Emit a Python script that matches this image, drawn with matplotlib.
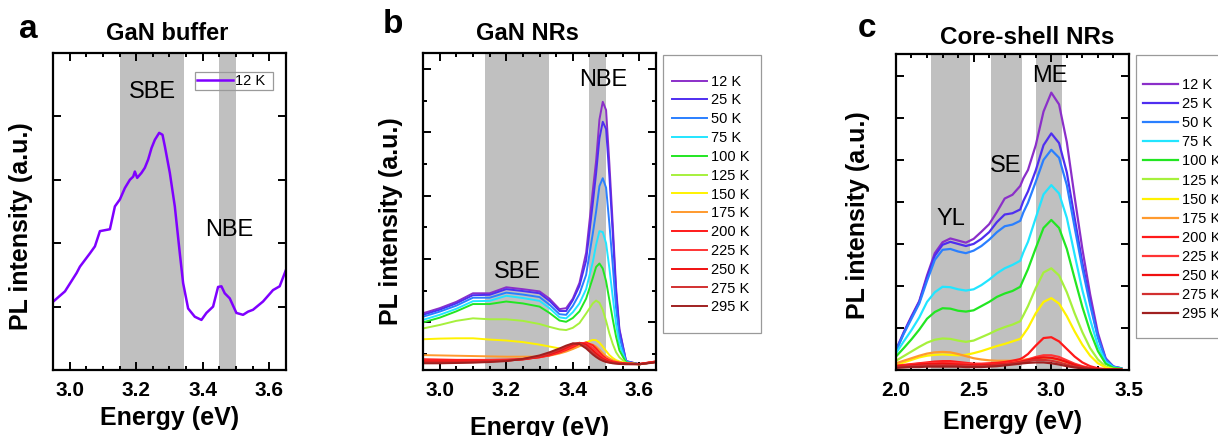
import matplotlib
matplotlib.use("Agg")
import matplotlib.pyplot as plt
from matplotlib.patches import Rectangle
import numpy as np

plt.rcParams['font.family'] = ['Liberation Sans', 'DejaVu Sans']

# ---------------- panel a : GaN buffer, 12 K ----------------
buffer_energy = [2.951, 2.986, 3.021, 3.031, 3.061, 3.076, 3.091, 3.121, 3.136, 3.151,
                 3.166, 3.181, 3.191, 3.196, 3.203, 3.216, 3.226, 3.236, 3.246, 3.256,
                 3.269, 3.279, 3.286, 3.301, 3.316, 3.331, 3.341, 3.356, 3.376, 3.396,
                 3.411, 3.431, 3.446, 3.456, 3.466, 3.481, 3.501, 3.521, 3.536, 3.551,
                 3.581, 3.611, 3.631, 3.650]
buffer_pl = [1.08, 1.24, 1.53, 1.63, 1.84, 1.95, 2.19, 2.22, 2.58, 2.69,
             2.87, 3.00, 3.05, 3.13, 3.03, 3.11, 3.19, 3.32, 3.50, 3.63,
             3.74, 3.71, 3.53, 3.11, 2.58, 1.84, 1.37, 0.97, 0.84, 0.79,
             0.90, 1.00, 1.31, 1.32, 1.21, 1.13, 0.90, 0.87, 0.92, 0.95,
             1.08, 1.26, 1.32, 1.58]

temps = ['12 K', '25 K', '50 K', '75 K', '100 K', '125 K', '150 K', '175 K',
         '200 K', '225 K', '250 K', '275 K', '295 K']
temp_colors = ['#8B2FC9', '#4F2EF0', '#2A7FFF', '#22E5FF', '#22E622', '#A6F03C',
               '#FFF200', '#FF9A2E', '#FF1A1A', '#FF3434', '#F01010', '#D23030', '#A02020']

# ---------------- panel b : GaN NRs ----------------
nr_energy = [2.95, 3.00, 3.05, 3.10, 3.15, 3.20, 3.25, 3.30, 3.33, 3.36, 3.38, 3.40, 3.42,
             3.44, 3.46, 3.47, 3.48, 3.49, 3.50, 3.51, 3.52, 3.53, 3.54, 3.56, 3.60, 3.65]
nr_12K = [1.79, 1.95, 2.15, 2.42, 2.42, 2.61, 2.55, 2.48, 2.25, 1.92, 1.95, 2.25, 2.75,
          3.70, 5.65, 6.60, 7.90, 8.46, 8.20, 6.50, 4.60, 2.60, 1.30, 0.28, 0.18, 0.26]
nr_25K = [1.74, 1.90, 2.10, 2.36, 2.37, 2.55, 2.49, 2.42, 2.18, 1.86, 1.86, 2.20, 2.65,
          3.45, 5.25, 6.20, 7.30, 7.83, 7.60, 6.10, 4.30, 2.45, 1.25, 0.28, 0.18, 0.26]
nr_50K = [1.68, 1.84, 2.03, 2.28, 2.28, 2.44, 2.38, 2.30, 2.06, 1.76, 1.74, 2.02, 2.40,
          3.00, 4.30, 5.00, 5.80, 6.05, 5.75, 4.60, 3.30, 1.95, 1.05, 0.26, 0.18, 0.26]
nr_75K = [1.58, 1.74, 1.93, 2.17, 2.18, 2.34, 2.27, 2.18, 1.95, 1.66, 1.63, 1.82, 2.10,
          2.55, 3.40, 3.95, 4.38, 4.35, 4.00, 3.20, 2.30, 1.45, 0.80, 0.25, 0.18, 0.26]
nr_100K = [1.50, 1.65, 1.85, 2.08, 2.08, 2.16, 2.10, 2.00, 1.80, 1.56, 1.52, 1.64, 1.85,
           2.25, 2.90, 3.25, 3.36, 3.20, 2.80, 2.20, 1.60, 1.05, 0.62, 0.24, 0.18, 0.26]
nr_125K = [1.31, 1.42, 1.55, 1.63, 1.60, 1.60, 1.55, 1.45, 1.36, 1.28, 1.26, 1.33, 1.48,
           1.78, 2.10, 2.19, 2.12, 1.90, 1.55, 1.15, 0.82, 0.56, 0.40, 0.22, 0.18, 0.26]
nr_150K = [0.97, 0.99, 1.00, 1.00, 0.96, 0.93, 0.88, 0.80, 0.74, 0.68, 0.66, 0.68, 0.76,
           0.87, 0.95, 0.94, 0.86, 0.74, 0.60, 0.47, 0.38, 0.31, 0.27, 0.21, 0.18, 0.26]
nr_175K = [0.47, 0.46, 0.45, 0.44, 0.43, 0.42, 0.42, 0.42, 0.45, 0.52, 0.58, 0.66, 0.75,
           0.82, 0.80, 0.74, 0.64, 0.53, 0.44, 0.37, 0.31, 0.27, 0.24, 0.21, 0.18, 0.26]
nr_200K = [0.34, 0.33, 0.32, 0.32, 0.32, 0.33, 0.35, 0.40, 0.46, 0.55, 0.63, 0.72, 0.82,
           0.87, 0.78, 0.68, 0.56, 0.45, 0.37, 0.31, 0.27, 0.25, 0.23, 0.21, 0.19, 0.27]
nr_225K = [0.30, 0.29, 0.29, 0.29, 0.30, 0.31, 0.34, 0.40, 0.47, 0.57, 0.66, 0.76, 0.85,
           0.84, 0.70, 0.60, 0.49, 0.40, 0.33, 0.28, 0.25, 0.23, 0.22, 0.20, 0.19, 0.27]
nr_250K = [0.27, 0.27, 0.27, 0.27, 0.28, 0.30, 0.33, 0.41, 0.49, 0.60, 0.70, 0.80, 0.86,
           0.80, 0.62, 0.52, 0.43, 0.35, 0.30, 0.26, 0.24, 0.22, 0.21, 0.20, 0.19, 0.26]
nr_275K = [0.24, 0.24, 0.24, 0.25, 0.27, 0.29, 0.34, 0.43, 0.52, 0.64, 0.74, 0.83, 0.85,
           0.74, 0.55, 0.46, 0.38, 0.32, 0.27, 0.24, 0.22, 0.21, 0.20, 0.19, 0.18, 0.25]
nr_295K = [0.21, 0.21, 0.22, 0.23, 0.25, 0.28, 0.35, 0.46, 0.56, 0.68, 0.77, 0.84, 0.82,
           0.68, 0.49, 0.41, 0.34, 0.29, 0.25, 0.23, 0.21, 0.20, 0.19, 0.18, 0.18, 0.24]

# ---------------- panel c : core-shell NRs ----------------
cs_energy = [2.00, 2.05, 2.10, 2.15, 2.20, 2.25, 2.30, 2.35, 2.40, 2.45, 2.50, 2.55, 2.60,
             2.65, 2.70, 2.75, 2.80, 2.82, 2.85, 2.90, 2.95, 3.00, 3.05, 3.10, 3.15, 3.20,
             3.25, 3.30, 3.35, 3.40, 3.45]
cs_12K = [0.48, 0.90, 1.28, 1.64, 2.25, 2.78, 3.04, 3.13, 3.08, 3.03, 3.12, 3.29, 3.47,
          3.76, 4.08, 4.17, 4.38, 4.56, 4.76, 5.35, 6.15, 6.60, 6.32, 5.42, 4.12, 2.88,
          1.80, 0.88, 0.28, 0.08, 0.04]
cs_25K = [0.46, 0.88, 1.26, 1.62, 2.20, 2.72, 2.98, 3.05, 3.00, 2.95, 3.00, 3.12, 3.28,
          3.52, 3.70, 3.73, 3.82, 4.02, 4.25, 4.75, 5.35, 5.63, 5.40, 4.70, 3.62, 2.55,
          1.62, 0.80, 0.26, 0.08, 0.04]
cs_50K = [0.45, 0.86, 1.22, 1.58, 2.12, 2.62, 2.86, 2.88, 2.82, 2.78, 2.84, 2.95, 3.10,
          3.28, 3.42, 3.46, 3.55, 3.75, 3.98, 4.48, 5.00, 5.24, 5.05, 4.40, 3.40, 2.42,
          1.55, 0.77, 0.25, 0.08, 0.04]
cs_75K = [0.40, 0.68, 0.95, 1.25, 1.62, 1.85, 1.98, 1.97, 1.92, 1.89, 1.92, 2.02, 2.15,
          2.30, 2.42, 2.50, 2.60, 2.80, 3.05, 3.62, 4.18, 4.40, 4.20, 3.62, 2.75, 1.90,
          1.20, 0.58, 0.19, 0.06, 0.03]
cs_100K = [0.32, 0.52, 0.73, 0.96, 1.22, 1.38, 1.47, 1.46, 1.41, 1.39, 1.42, 1.52, 1.62,
           1.74, 1.82, 1.88, 1.98, 2.15, 2.40, 2.90, 3.38, 3.57, 3.38, 2.88, 2.18, 1.50,
           0.92, 0.45, 0.15, 0.05, 0.03]
cs_125K = [0.22, 0.33, 0.44, 0.55, 0.65, 0.72, 0.75, 0.74, 0.70, 0.67, 0.70, 0.78, 0.86,
           0.95, 1.02, 1.08, 1.16, 1.30, 1.52, 1.95, 2.32, 2.42, 2.25, 1.85, 1.35, 0.90,
           0.52, 0.25, 0.08, 0.03, 0.02]
cs_150K = [0.12, 0.18, 0.24, 0.30, 0.34, 0.36, 0.37, 0.36, 0.35, 0.36, 0.40, 0.45, 0.51,
           0.57, 0.62, 0.68, 0.74, 0.84, 1.00, 1.35, 1.62, 1.71, 1.58, 1.28, 0.92, 0.60,
           0.34, 0.16, 0.06, 0.02, 0.02]
cs_175K = [0.16, 0.22, 0.28, 0.34, 0.39, 0.42, 0.43, 0.42, 0.38, 0.33, 0.28, 0.25, 0.23,
           0.22, 0.22, 0.22, 0.23, 0.24, 0.26, 0.28, 0.29, 0.28, 0.24, 0.18, 0.12, 0.07,
           0.04, 0.02, 0.01, 0.01, 0.01]
cs_200K = [0.10, 0.12, 0.14, 0.16, 0.18, 0.20, 0.21, 0.21, 0.19, 0.17, 0.15, 0.15, 0.16,
           0.17, 0.19, 0.22, 0.26, 0.30, 0.38, 0.58, 0.76, 0.78, 0.68, 0.50, 0.32, 0.18,
           0.09, 0.04, 0.02, 0.01, 0.01]
cs_225K = [0.09, 0.11, 0.13, 0.15, 0.16, 0.17, 0.17, 0.17, 0.16, 0.15, 0.13, 0.13, 0.13,
           0.14, 0.15, 0.17, 0.20, 0.22, 0.25, 0.31, 0.35, 0.35, 0.31, 0.23, 0.15, 0.09,
           0.05, 0.02, 0.01, 0.01, 0.01]
cs_250K = [0.08, 0.10, 0.11, 0.13, 0.14, 0.14, 0.15, 0.14, 0.13, 0.12, 0.11, 0.11, 0.12,
           0.13, 0.14, 0.16, 0.19, 0.21, 0.23, 0.28, 0.30, 0.29, 0.25, 0.19, 0.12, 0.07,
           0.04, 0.02, 0.01, 0.01, 0.01]
cs_275K = [0.07, 0.08, 0.09, 0.10, 0.11, 0.11, 0.11, 0.11, 0.10, 0.10, 0.09, 0.09, 0.10,
           0.11, 0.13, 0.15, 0.18, 0.19, 0.21, 0.24, 0.24, 0.22, 0.18, 0.13, 0.08, 0.05,
           0.03, 0.01, 0.01, 0.01, 0.01]
cs_295K = [0.05, 0.06, 0.07, 0.07, 0.08, 0.08, 0.08, 0.08, 0.08, 0.07, 0.07, 0.07, 0.08,
           0.09, 0.11, 0.13, 0.15, 0.16, 0.17, 0.18, 0.18, 0.16, 0.13, 0.09, 0.06, 0.04,
           0.02, 0.01, 0.01, 0.01, 0.01]

nr_series = [nr_12K, nr_25K, nr_50K, nr_75K, nr_100K, nr_125K, nr_150K, nr_175K,
             nr_200K, nr_225K, nr_250K, nr_275K, nr_295K]
cs_series = [cs_12K, cs_25K, cs_50K, cs_75K, cs_100K, cs_125K, cs_150K, cs_175K,
             cs_200K, cs_225K, cs_250K, cs_275K, cs_295K]

SHADE = '#C0C0C0'
W, H = 1218, 436


def style_axes(ax):
    ax.tick_params(which='both', direction='in', top=True, right=True, width=1.4,
                   labelsize=15, pad=8)
    ax.tick_params(which='major', length=6)
    ax.tick_params(which='minor', length=3)
    for sp in ax.spines.values():
        sp.set_linewidth(1.6)
    ax.set_yticklabels([])
    for lbl in ax.get_xticklabels():
        lbl.set_fontweight('bold')
    ax.set_xlabel('Energy (eV)', fontsize=18, fontweight='bold')
    ax.set_ylabel('PL intensity (a.u.)', fontsize=18, fontweight='bold')


def add_legend(ax, anchor, spacing):
    # legend without its own frame, the frame is drawn separately below
    return ax.legend(loc='upper left', bbox_to_anchor=anchor, fontsize=10.5,
                     handlelength=2.4, handletextpad=0.28, borderpad=0,
                     labelspacing=spacing, borderaxespad=0, frameon=False)


def legend_box(x0, y0, x1, y1):
    # box given in pixels from the top-left corner
    fig.patches.append(Rectangle((x0 / W, 1 - y1 / H), (x1 - x0) / W, (y1 - y0) / H,
                                 transform=fig.transFigure, fill=False,
                                 edgecolor='#9A9A9A', lw=0.9))


fig = plt.figure(figsize=(12.18, 4.36), dpi=100)

# ---- a ----
ax1 = fig.add_axes([0.0435, 0.1514, 0.1913, 0.7271])
ax1.axvspan(3.15, 3.345, color=SHADE, lw=0)
ax1.axvspan(3.45, 3.50, color=SHADE, lw=0)
ax1.plot(buffer_energy, buffer_pl, color='#7F00FF', lw=1.8, label='12 K')
ax1.set_xlim(2.95, 3.65)
ax1.set_ylim(0, 5.0)
ax1.set_xticks(np.arange(3.0, 3.61, 0.2))
ax1.set_xticks(np.arange(2.95, 3.651, 0.05), minor=True)
ax1.set_yticks([1, 2, 3, 4])
style_axes(ax1)
ax1.text(3.25, 4.39, 'SBE', fontsize=17, ha='center', va='center')
ax1.text(3.48, 2.21, 'NBE', fontsize=17, ha='center', va='center')
ax1.legend(loc='upper left', bbox_to_anchor=(0.618, 0.934), fontsize=10.5,
           handlelength=2.47, handletextpad=0.14, borderpad=0, borderaxespad=0,
           frameon=False)
legend_box(195, 72, 273, 90)
ax1.yaxis.set_label_coords(-0.086, 0.454)
ax1.xaxis.set_label_coords(0.5, -0.113)

# ---- b ----
ax2 = fig.add_axes([0.3473, 0.1514, 0.1913, 0.7271])
ax2.axvspan(3.135, 3.33, color=SHADE, lw=0)
ax2.axvspan(3.45, 3.50, color=SHADE, lw=0)
for vals, col, lab in zip(nr_series, temp_colors, temps):
    ax2.plot(nr_energy, vals, color=col, lw=1.4, label=lab)
ax2.set_xlim(2.95, 3.65)
ax2.set_ylim(0, 10.0)
ax2.set_xticks(np.arange(3.0, 3.61, 0.2))
ax2.set_xticks(np.arange(2.95, 3.651, 0.05), minor=True)
ax2.set_yticks([1.5, 3.5, 5.5, 7.5, 9.5])
ax2.set_yticks([0.5, 2.5, 4.5, 6.5, 8.5], minor=True)
style_axes(ax2)
ax2.text(3.235, 3.09, 'SBE', fontsize=17, ha='center', va='center')
ax2.text(3.49, 9.15, 'NBE', fontsize=17, ha='center', va='center')
add_legend(ax2, (1.067, 0.9316), 0.33)
legend_box(663, 55, 761, 333)
ax2.yaxis.set_label_coords(-0.086, 0.47)
ax2.xaxis.set_label_coords(0.5, -0.145)

# ---- c ----
ax3 = fig.add_axes([0.7356, 0.1514, 0.1913, 0.7248])
ax3.axvspan(2.225, 2.475, color=SHADE, lw=0)
ax3.axvspan(2.61, 2.81, color=SHADE, lw=0)
ax3.axvspan(2.90, 3.07, color=SHADE, lw=0)
for vals, col, lab in zip(cs_series, temp_colors, temps):
    ax3.plot(cs_energy, vals, color=col, lw=1.6, label=lab)
ax3.set_xlim(2.0, 3.5)
ax3.set_ylim(0, 7.52)
ax3.set_xticks([2.0, 2.5, 3.0, 3.5])
ax3.set_xticks(np.arange(2.0, 3.51, 0.1), minor=True)
ax3.set_yticks([1, 2, 3, 4, 5, 6, 7])
style_axes(ax3)
ax3.text(2.352, 3.59, 'YL', fontsize=17, ha='center', va='center')
ax3.text(2.706, 4.86, 'SE', fontsize=17, ha='center', va='center')
ax3.text(2.99, 7.0, 'ME', fontsize=17, ha='center', va='center')
add_legend(ax3, (1.061, 0.924), 0.35)
legend_box(1136, 55, 1240, 338)
ax3.yaxis.set_label_coords(-0.112, 0.49)
ax3.xaxis.set_label_coords(0.5, -0.128)

# panel titles and letters
fig.text(167 / W, 1 - 33 / H, 'GaN buffer', fontsize=17, fontweight='bold',
         ha='center', va='center')
fig.text(527 / W, 1 - 34 / H, 'GaN NRs', fontsize=17, fontweight='bold',
         ha='center', va='center')
fig.text(1027 / W, 1 - 37 / H, 'Core-shell NRs', fontsize=17.5, fontweight='bold',
         ha='center', va='center')
fig.text(19 / W, 1 - 38 / H, 'a', fontsize=24, fontweight='bold', va='baseline')
fig.text(383 / W, 1 - 33 / H, 'b', fontsize=24, fontweight='bold', va='baseline')
fig.text(858 / W, 1 - 37 / H, 'c', fontsize=24, fontweight='bold', va='baseline')

fig.savefig('out.png', dpi=100)
